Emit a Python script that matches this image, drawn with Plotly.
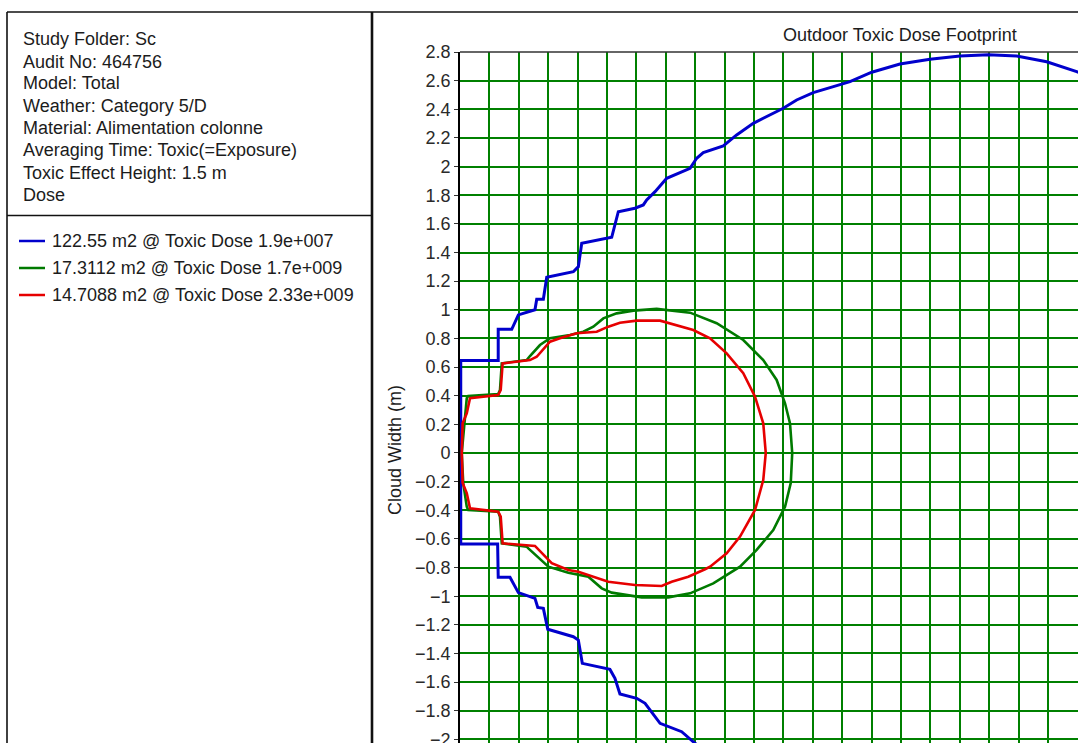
import plotly.graph_objects as go

# ---- Footprint contours (downwind distance x, cloud width y) ----
blue_upper_x = [0.005, 0.26, 0.26, 0.352, 0.397, 0.51, 0.522, 0.567, 0.59, 0.771, 0.805, 0.828,
                1.032, 1.077, 1.19, 1.247, 1.27, 1.327, 1.406, 1.565, 1.61, 1.655, 1.791, 1.882,
                1.995, 2.199, 2.29, 2.403, 2.54, 2.653, 2.801, 2.993, 3.197, 3.401, 3.594, 3.787,
                3.991, 4.195, 4.30]
blue_upper_y = [0.645, 0.645, 0.864, 0.864, 0.964, 1.0, 1.073, 1.073, 1.227, 1.266, 1.301, 1.464,
                1.506, 1.685, 1.709, 1.732, 1.767, 1.825, 1.918, 1.988, 2.058, 2.097, 2.144, 2.221,
                2.302, 2.407, 2.465, 2.516, 2.558, 2.593, 2.659, 2.716, 2.749, 2.772, 2.781, 2.772,
                2.732, 2.663, 2.62]
blue_lower_x = [0.005, 0.256, 0.26, 0.34, 0.397, 0.51, 0.529, 0.567, 0.597, 0.771, 0.805, 0.832,
                1.02, 1.054, 1.088, 1.202, 1.259, 1.361, 1.508, 1.599, 1.70]
blue_lower_y = [-0.635, -0.635, -0.868, -0.868, -0.975, -1.015, -1.078, -1.085, -1.231, -1.283,
                -1.306, -1.469, -1.511, -1.573, -1.683, -1.713, -1.748, -1.888, -1.946, -2.027, -2.11]

green_x = [0.012, 0.02, 0.027, 0.046, 0.056, 0.26, 0.272, 0.284, 0.454, 0.476, 0.544, 0.612, 0.748,
           0.839, 0.907, 0.975, 1.066, 1.179, 1.338, 1.565, 1.746, 1.927, 2.063, 2.154, 2.211, 2.245,
           2.26, 2.25, 2.211, 2.131, 2.018, 1.905, 1.723, 1.565, 1.417, 1.236, 1.032, 0.964, 0.873,
           0.737, 0.601, 0.51, 0.465, 0.454, 0.284, 0.272, 0.26, 0.056, 0.046, 0.022, 0.012]
green_y = [0.0, 0.09, 0.207, 0.382, 0.398, 0.412, 0.44, 0.626, 0.649, 0.677, 0.754, 0.801, 0.824,
           0.847, 0.882, 0.94, 0.975, 0.994, 1.006, 0.98, 0.906, 0.789, 0.649, 0.51, 0.347, 0.207,
           0.0, -0.21, -0.375, -0.538, -0.677, -0.794, -0.91, -0.98, -1.008, -1.008, -0.975, -0.945,
           -0.864, -0.836, -0.794, -0.712, -0.666, -0.654, -0.631, -0.445, -0.41, -0.398, -0.375,
           -0.21, 0.0]

red_x = [0.012, 0.018, 0.046, 0.068, 0.26, 0.277, 0.29, 0.476, 0.522, 0.612, 0.68, 0.794, 0.93,
         1.009, 1.088, 1.202, 1.361, 1.587, 1.701, 1.814, 1.927, 2.007, 2.063, 2.08, 2.063, 2.007,
         1.905, 1.814, 1.701, 1.667, 1.553, 1.44, 1.372, 1.19, 1.009, 0.805, 0.737, 0.624, 0.51,
         0.29, 0.277, 0.26, 0.068, 0.046, 0.018, 0.012]
red_y = [0.0, 0.207, 0.277, 0.382, 0.405, 0.44, 0.626, 0.649, 0.672, 0.777, 0.801, 0.836, 0.847,
         0.882, 0.91, 0.924, 0.924, 0.859, 0.801, 0.696, 0.557, 0.393, 0.207, 0.0, -0.189, -0.398,
         -0.584, -0.7, -0.794, -0.812, -0.864, -0.899, -0.929, -0.922, -0.899, -0.829, -0.817,
         -0.77, -0.649, -0.631, -0.445, -0.41, -0.386, -0.28, -0.21, 0.0]

series_names = ["122.55 m2 @ Toxic Dose 1.9e+007",
                "17.3112 m2 @ Toxic Dose 1.7e+009",
                "14.7088 m2 @ Toxic Dose 2.33e+009"]
series_colors = ["#0000CC", "#007A00", "#E60000"]

info_lines = ["Study Folder: Sc", "Audit No: 464756", "Model: Total", "Weather: Category 5/D",
              "Material: Alimentation colonne", "Averaging Time: Toxic(=Exposure)",
              "Toxic Effect Height: 1.5 m", "Dose"]

chart_title = "Outdoor Toxic Dose Footprint"
y_title = "Cloud Width (m)"

W, H = 1078, 743
FONT = "Liberation Sans, Arial, sans-serif"
FS = 18
TXT = "#1c1c1c"


def px(x):
    return x / W


def py(y):
    return 1 - y / H


blue_x = blue_upper_x[::-1] + blue_lower_x
blue_y = blue_upper_y[::-1] + blue_lower_y

fig = go.Figure()
for xs, ys, name, col, w in [(blue_x, blue_y, series_names[0], series_colors[0], 3),
                             (green_x, green_y, series_names[1], series_colors[1], 2.6),
                             (red_x, red_y, series_names[2], series_colors[2], 2.6)]:
    fig.add_trace(go.Scatter(x=xs, y=ys, mode="lines", name=name,
                             line=dict(color=col, width=w), showlegend=False,
                             cliponaxis=True))

annotations = []
shapes = []

# info block
info_centers = [39.3, 61.6, 83.5, 105.8, 128.1, 150.4, 172.7, 195.0]
for txt, cy in zip(info_lines, info_centers):
    annotations.append(dict(text=txt, x=px(21), y=py(cy), xref="paper", yref="paper",
                            xanchor="left", yanchor="middle", showarrow=False,
                            font=dict(family=FONT, size=FS, color=TXT)))

# legend block
legend_centers = [241, 268, 295]
for name, col, cy in zip(series_names, series_colors, legend_centers):
    shapes.append(dict(type="line", xref="paper", yref="paper", x0=px(19), x1=px(45),
                       y0=py(cy), y1=py(cy), line=dict(color=col, width=2.5)))
    annotations.append(dict(text=name, x=px(50), y=py(cy), xref="paper", yref="paper",
                            xanchor="left", yanchor="middle", showarrow=False,
                            font=dict(family=FONT, size=FS, color=TXT)))

# title and axis title
annotations.append(dict(text=chart_title, x=px(900), y=py(35), xref="paper", yref="paper",
                        xanchor="center", yanchor="middle", showarrow=False,
                        font=dict(family=FONT, size=FS, color=TXT)))
annotations.append(dict(text=y_title, x=px(395), y=py(450), xref="paper", yref="paper",
                        xanchor="center", yanchor="middle", showarrow=False, textangle=-90,
                        font=dict(family=FONT, size=FS, color=TXT)))

# panel frame lines
frame = "#111111"
shapes += [
    dict(type="line", xref="paper", yref="paper", x0=px(7), x1=1, y0=py(12), y1=py(12),
         line=dict(color=frame, width=1.6)),
    dict(type="line", xref="paper", yref="paper", x0=px(7), x1=px(7), y0=py(12), y1=0,
         line=dict(color=frame, width=1.6)),
    dict(type="line", xref="paper", yref="paper", x0=px(7), x1=px(372), y0=py(215.5), y1=py(215.5),
         line=dict(color=frame, width=1.6)),
    dict(type="line", xref="paper", yref="paper", x0=px(372), x1=px(372), y0=py(12), y1=0,
         line=dict(color=frame, width=2.6)),
    dict(type="line", xref="paper", yref="paper", x0=px(460), x1=1, y0=py(52), y1=py(52),
         line=dict(color="#333333", width=1.6)),
]

fig.update_layout(
    width=W, height=H,
    margin=dict(l=0, r=0, t=0, b=0, pad=0),
    paper_bgcolor="white", plot_bgcolor="white",
    annotations=annotations, shapes=shapes,
    showlegend=False,
    xaxis=dict(domain=[px(460), 1], range=[0, (W - 460) / 147.0], dtick=0.2, tick0=0,
               showgrid=True, gridcolor="#008000", gridwidth=1.7, zeroline=False,
               showticklabels=False, ticks="", showline=False, automargin=False),
    yaxis=dict(domain=[0, py(52)], range=[-2.025, 2.8], dtick=0.2, tick0=0,
               showgrid=True, gridcolor="#008000", gridwidth=1.7, zeroline=False,
               showline=True, linecolor="#000000", linewidth=1.6,
               ticks="outside", ticklen=4, tickcolor="#333333", tickwidth=1.2,
               tickfont=dict(family=FONT, size=FS, color="#2a2a2a"),
               ticklabeloverflow="allow",
               tickformat="~g", automargin=False),
)

fig.write_html("out.html")
